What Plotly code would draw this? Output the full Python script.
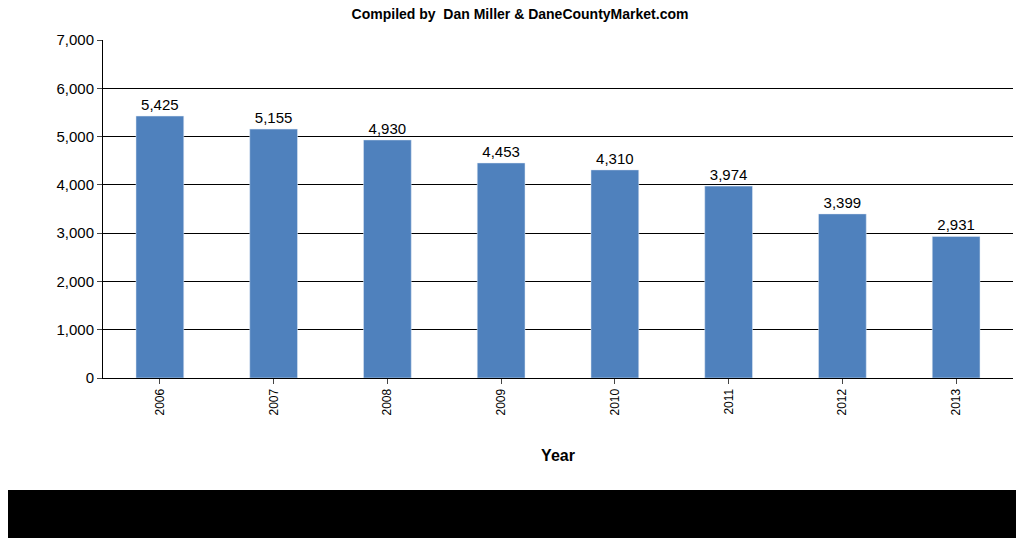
import plotly.graph_objects as go

years = ["2006", "2007", "2008", "2009", "2010", "2011", "2012", "2013"]
values = [5425, 5155, 4930, 4453, 4310, 3974, 3399, 2931]
labels = [f"{v:,}" for v in values]

fig = go.Figure(go.Bar(
    x=years, y=values, text=labels, textposition="outside",
    textfont=dict(family="Liberation Sans, Arial", size=15, color="black"),
    marker=dict(color="#4F81BD"), width=0.42, cliponaxis=False))

fig.update_layout(
    width=1024, height=538, paper_bgcolor="white", plot_bgcolor="white",
    margin=dict(l=95, r=19, t=32, b=168),
    font=dict(family="Liberation Sans, Arial", color="black"),
    title=dict(text="<b>Compiled by  Dan Miller & DaneCountyMarket.com</b>",
               x=0.5, xanchor="center", y=0.988, yanchor="middle",
               font=dict(size=14)),
    showlegend=False,
    shapes=[dict(type="rect", xref="paper", yref="paper", x0=-0.5, x1=1.5,
                 y0=-0.8, y1=-112/338, fillcolor="black", line_width=0, layer="above")],
)
fig.update_yaxes(range=[0, 7000], dtick=1000, tickformat=",", showgrid=True,
                 gridcolor="black", gridwidth=1, showline=True, linecolor="black",
                 ticks="outside", ticklen=5, tickfont=dict(size=15), zeroline=False)
fig.update_xaxes(tickangle=-90, tickfont=dict(size=12), showline=True, linecolor="black",
                 ticks="outside", ticklen=5,
                 title=dict(text="<b>Year</b>", font=dict(size=16), standoff=35))
fig.write_html("out.html")
